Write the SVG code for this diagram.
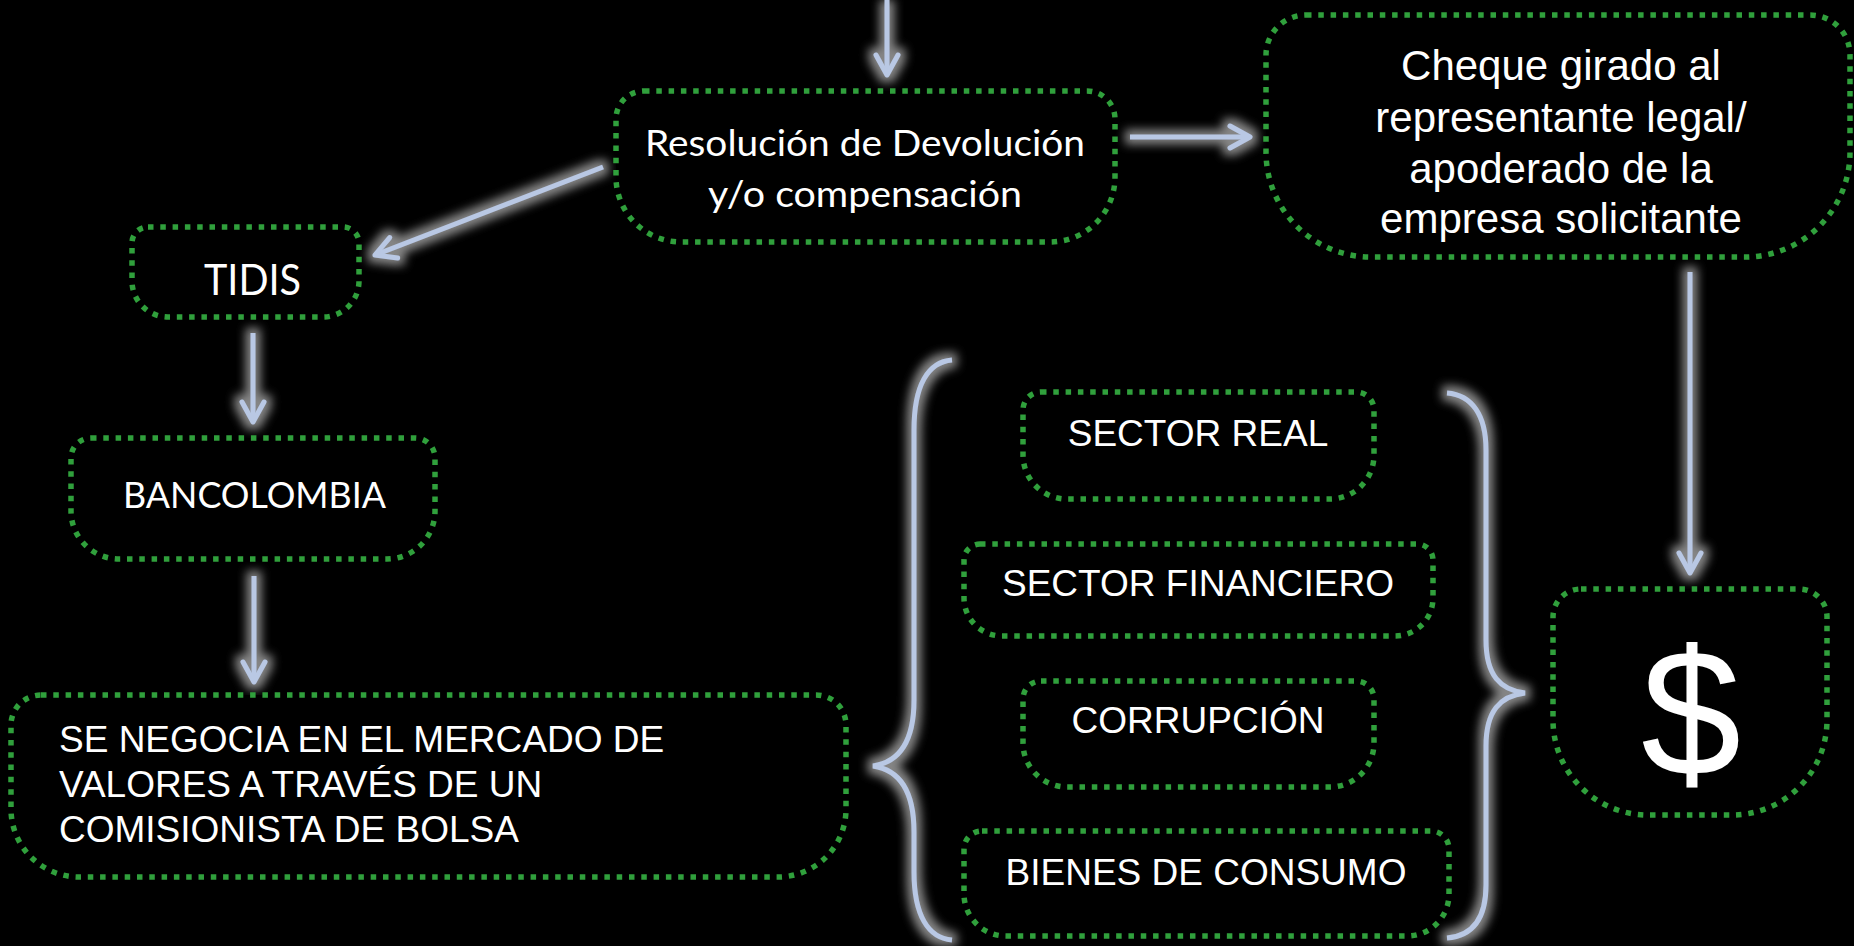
<svg xmlns="http://www.w3.org/2000/svg" width="1854" height="946" viewBox="0 0 1854 946">
<defs>
<style>
.box{fill:#000;stroke:#30a03c;stroke-width:5.5;stroke-dasharray:5.5 6.8;}
.cal{font-family:Lato,"Open Sans","Noto Sans",sans-serif;fill:#fff;}
.ari{font-family:"Liberation Sans",Arial,sans-serif;fill:#fff;}
.conn{fill:none;stroke:#b9c8e4;stroke-width:5;}
</style>
<filter id="glow" filterUnits="userSpaceOnUse" x="0" y="0" width="1854" height="946">
<feMorphology in="SourceAlpha" operator="dilate" radius="5" result="d"/>
<feGaussianBlur in="d" stdDeviation="5" result="b"/>
<feFlood flood-color="#8c8c8c" flood-opacity="0.95"/>
<feComposite in2="b" operator="in" result="g"/>
<feMerge><feMergeNode in="g"/><feMergeNode in="SourceGraphic"/></feMerge>
</filter>
<marker id="chev" viewBox="-24 -14 28 28" refX="0" refY="0" markerWidth="28" markerHeight="28" markerUnits="userSpaceOnUse" orient="auto" overflow="visible">
<path d="M-20,-11 L0,0 L-20,11" fill="none" stroke="#b9c8e4" stroke-width="5" stroke-linecap="round" stroke-linejoin="round"/>
</marker>
</defs>
<rect width="1854" height="946" fill="#000"/>

<g id="connectors" filter="url(#glow)">
<path class="conn" d="M887,0 L887,75" marker-end="url(#chev)"/>
<path class="conn" d="M1130,137 L1250,137" marker-end="url(#chev)"/>
<path class="conn" d="M603,167 L375,255" marker-end="url(#chev)"/>
<path class="conn" d="M253,333 L253,422" marker-end="url(#chev)"/>
<path class="conn" d="M254,576 L254,682" marker-end="url(#chev)"/>
<path class="conn" d="M1690,272 L1690,573" marker-end="url(#chev)"/>
<path id="brace-left" class="conn" d="M952,360 C928,362 914,385 914,430 L914,700 C914,740 900,762 873,766 C900,770 914,792 914,832 L914,872 C914,915 928,938 952,940"/>
<path id="brace-right" class="conn" d="M1447,393 C1472,395 1486,415 1486,450 L1486,640 C1486,675 1500,690 1525,693 C1500,696 1486,711 1486,746 L1486,885 C1486,920 1472,936 1447,938"/>
</g>

<g id="resolucion">
<path class="box" d="M644,91 H1087 A28,28 0 0 1 1115,119 V177 A65,65 0 0 1 1050,242 H681 A65,65 0 0 1 616,177 V119 A28,28 0 0 1 644,91 Z"/>
<text class="cal" font-size="36" text-anchor="middle" x="865" y="156" textLength="440" lengthAdjust="spacingAndGlyphs">Resolución de Devolución</text>
<text class="cal" font-size="36" text-anchor="middle" x="865" y="207" textLength="314" lengthAdjust="spacingAndGlyphs">y/o compensación</text>
</g>

<g id="cheque">
<path class="box" d="M1306,15 H1810 A40,40 0 0 1 1850,55 V152 A105,105 0 0 1 1745,257 H1371 A105,105 0 0 1 1266,152 V55 A40,40 0 0 1 1306,15 Z"/>
<text class="ari" font-size="42" text-anchor="middle" x="1561" y="80">Cheque girado al</text>
<text class="ari" font-size="42" text-anchor="middle" x="1561" y="132">representante legal/</text>
<text class="ari" font-size="42" text-anchor="middle" x="1561" y="183">apoderado de la</text>
<text class="ari" font-size="42" text-anchor="middle" x="1561" y="233">empresa solicitante</text>
</g>

<g id="tidis">
<path class="box" d="M148,227 H343 A16,16 0 0 1 359,243 V281 A36,36 0 0 1 323,317 H168 A36,36 0 0 1 132,281 V243 A16,16 0 0 1 148,227 Z"/>
<text class="cal" font-size="42" text-anchor="middle" x="252.5" y="295" textLength="97" lengthAdjust="spacingAndGlyphs">TIDIS</text>
</g>

<g id="bancolombia">
<path class="box" d="M91,438 H415 A20,20 0 0 1 435,458 V511 A48,48 0 0 1 387,559 H119 A48,48 0 0 1 71,511 V458 A20,20 0 0 1 91,438 Z"/>
<text class="cal" font-size="36" text-anchor="middle" x="254.5" y="508" textLength="263" lengthAdjust="spacingAndGlyphs">BANCOLOMBIA</text>
</g>

<g id="mercado">
<path class="box" d="M41,695 H816 A30,30 0 0 1 846,725 V809 A68,68 0 0 1 778,877 H79 A68,68 0 0 1 11,809 V725 A30,30 0 0 1 41,695 Z"/>
<text class="ari" font-size="37" x="59" y="752">SE NEGOCIA EN EL MERCADO DE</text>
<text class="ari" font-size="37" x="59" y="797">VALORES A TRAVÉS DE UN</text>
<text class="ari" font-size="37" x="59" y="842">COMISIONISTA DE BOLSA</text>
</g>

<g id="sector-real">
<path class="box" d="M1041,392 H1356 A18,18 0 0 1 1374,410 V455 A44,44 0 0 1 1330,499 H1067 A44,44 0 0 1 1023,455 V410 A18,18 0 0 1 1041,392 Z"/>
<text class="ari" font-size="37" text-anchor="middle" x="1198" y="446">SECTOR REAL</text>
</g>

<g id="sector-financiero">
<path class="box" d="M980,544 H1417 A16,16 0 0 1 1433,560 V598 A38,38 0 0 1 1395,636 H1002 A38,38 0 0 1 964,598 V560 A16,16 0 0 1 980,544 Z"/>
<text class="ari" font-size="37" text-anchor="middle" x="1198" y="596">SECTOR FINANCIERO</text>
</g>

<g id="corrupcion">
<path class="box" d="M1041,681 H1356 A18,18 0 0 1 1374,699 V743 A44,44 0 0 1 1330,787 H1067 A44,44 0 0 1 1023,743 V699 A18,18 0 0 1 1041,681 Z"/>
<text class="ari" font-size="37" text-anchor="middle" x="1198" y="733">CORRUPCIÓN</text>
</g>

<g id="bienes">
<path class="box" d="M982,831 H1431 A18,18 0 0 1 1449,849 V894 A42,42 0 0 1 1407,936 H1006 A42,42 0 0 1 964,894 V849 A18,18 0 0 1 982,831 Z"/>
<text class="ari" font-size="37" text-anchor="middle" x="1206" y="885">BIENES DE CONSUMO</text>
</g>

<g id="dinero">
<path class="box" d="M1581,589 H1799 A28,28 0 0 1 1827,617 V720 A95,95 0 0 1 1732,815 H1648 A95,95 0 0 1 1553,720 V617 A28,28 0 0 1 1581,589 Z"/>
<text class="ari" font-size="180" text-anchor="middle" x="1691" y="775">$</text>
</g>
</svg>
